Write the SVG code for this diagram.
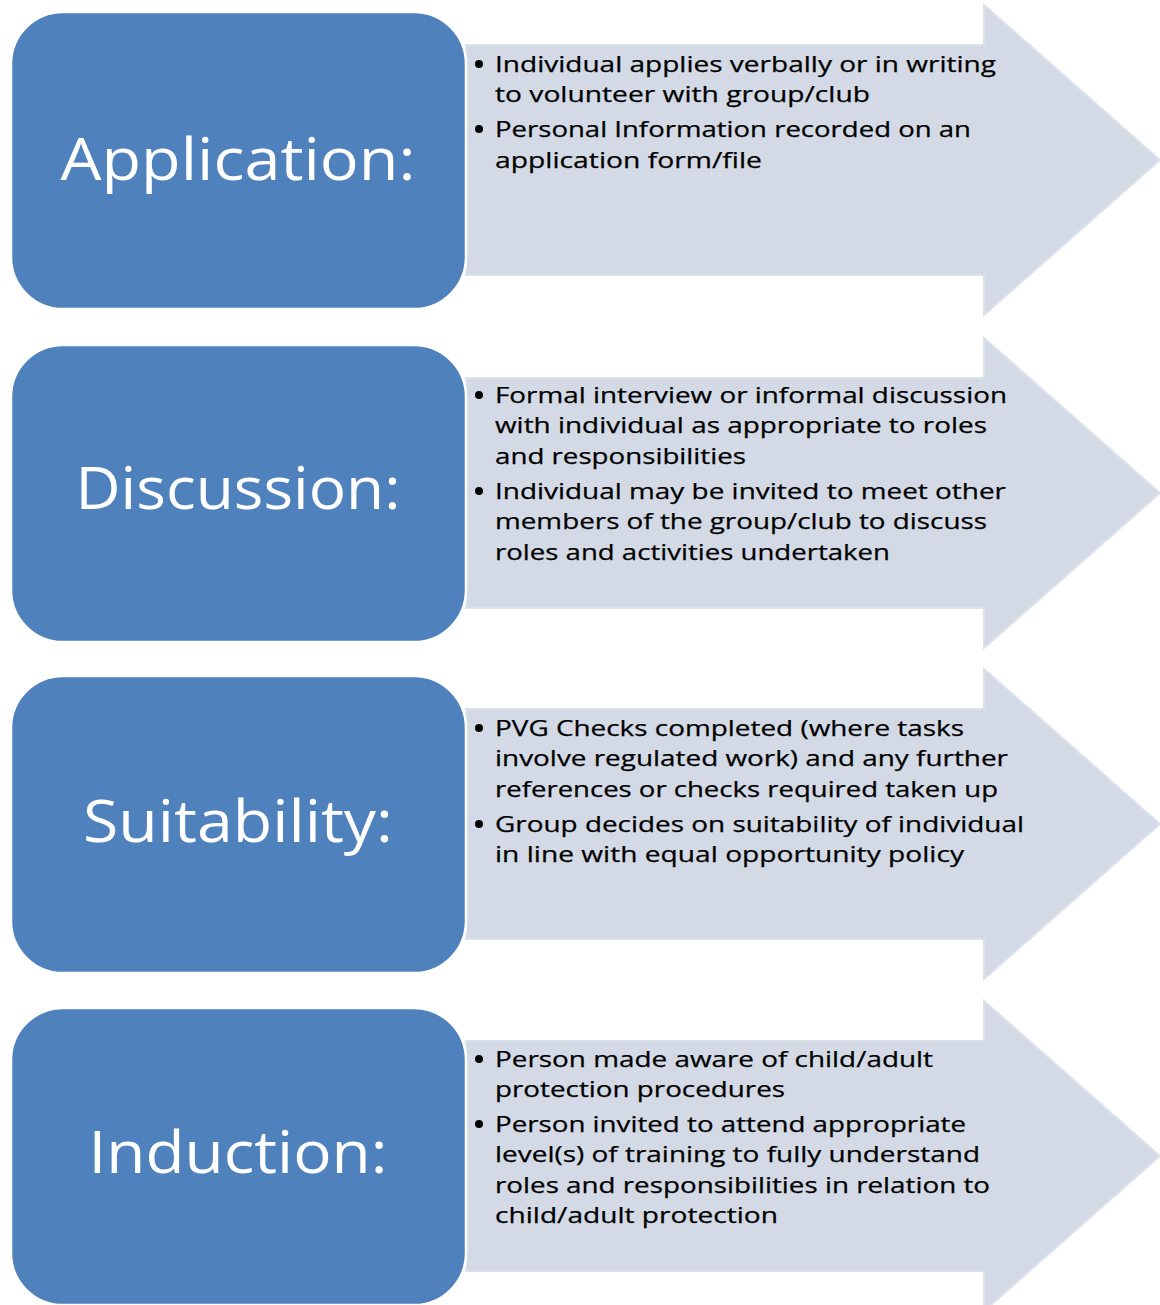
<svg xmlns="http://www.w3.org/2000/svg" width="1160" height="1305" viewBox="0 0 1160 1305">
  <style>
    .arrow { fill: #D3DAE6; stroke: #DCE2EC; stroke-width: 2; }
    .box { fill: #4F81BD; stroke: #FFFFFF; stroke-width: 2.5; }
    .label { font-family: "Open Sans", "Noto Sans", "Liberation Sans", sans-serif; font-size: 58px; fill: #FFFFFF; text-anchor: middle; }
    .item { font-family: "Open Sans", "Noto Sans", "Liberation Sans", sans-serif; font-size: 22px; fill: #000000; stroke: #000000; stroke-width: 0.25; }
    .dot { fill: #000000; }
  </style>
  <defs>
    <path id="stepArrow" d="M466,45 H984 V5 L1160,160 L984,315 V275 H466 Z"/>
    <rect id="stepBox" x="11" y="12" width="455" height="297" rx="52" ry="52"/>
  </defs>
  <rect width="1160" height="1305" fill="#FFFFFF"/>

  <!-- Step 1 -->
  <g id="application">
    <use href="#stepArrow" class="arrow"/>
    <use href="#stepBox" class="box"/>
    <text class="label" x="238" y="180" textLength="355" lengthAdjust="spacingAndGlyphs">Application:</text>
    <circle class="dot" cx="479" cy="64" r="4"/>
    <text class="item" x="495" y="72" textLength="501" lengthAdjust="spacingAndGlyphs">Individual applies verbally or in writing</text>
    <text class="item" x="495" y="102" textLength="375" lengthAdjust="spacingAndGlyphs">to volunteer with group/club</text>
    <circle class="dot" cx="479" cy="129" r="4"/>
    <text class="item" x="495" y="137" textLength="476" lengthAdjust="spacingAndGlyphs">Personal Information recorded on an</text>
    <text class="item" x="495" y="168" textLength="267" lengthAdjust="spacingAndGlyphs">application form/file</text>
  </g>

  <!-- Step 2 -->
  <g id="discussion">
    <use href="#stepArrow" class="arrow" transform="translate(0,333)"/>
    <use href="#stepBox" class="box" transform="translate(0,333)"/>
    <text class="label" x="238" y="509" textLength="325" lengthAdjust="spacingAndGlyphs">Discussion:</text>
    <circle class="dot" cx="479" cy="395" r="4"/>
    <text class="item" x="495" y="403" textLength="512" lengthAdjust="spacingAndGlyphs">Formal interview or informal discussion</text>
    <text class="item" x="495" y="433" textLength="492" lengthAdjust="spacingAndGlyphs">with individual as appropriate to roles</text>
    <text class="item" x="495" y="464" textLength="251" lengthAdjust="spacingAndGlyphs">and responsibilities</text>
    <circle class="dot" cx="479" cy="491" r="4"/>
    <text class="item" x="495" y="499" textLength="511" lengthAdjust="spacingAndGlyphs">Individual may be invited to meet other</text>
    <text class="item" x="495" y="529" textLength="492" lengthAdjust="spacingAndGlyphs">members of the group/club to discuss</text>
    <text class="item" x="495" y="560" textLength="395" lengthAdjust="spacingAndGlyphs">roles and activities undertaken</text>
  </g>

  <!-- Step 3 -->
  <g id="suitability">
    <use href="#stepArrow" class="arrow" transform="translate(0,664)"/>
    <use href="#stepBox" class="box" transform="translate(0,664)"/>
    <text class="label" x="238" y="842" textLength="310" lengthAdjust="spacingAndGlyphs">Suitability:</text>
    <circle class="dot" cx="479" cy="728" r="4"/>
    <text class="item" x="495" y="736" textLength="469" lengthAdjust="spacingAndGlyphs">PVG Checks completed (where tasks</text>
    <text class="item" x="495" y="766" textLength="513" lengthAdjust="spacingAndGlyphs">involve regulated work) and any further</text>
    <text class="item" x="495" y="797" textLength="503" lengthAdjust="spacingAndGlyphs">references or checks required taken up</text>
    <circle class="dot" cx="479" cy="824" r="4"/>
    <text class="item" x="495" y="832" textLength="529" lengthAdjust="spacingAndGlyphs">Group decides on suitability of individual</text>
    <text class="item" x="495" y="862" textLength="469" lengthAdjust="spacingAndGlyphs">in line with equal opportunity policy</text>
  </g>

  <!-- Step 4 -->
  <g id="induction">
    <use href="#stepArrow" class="arrow" transform="translate(0,996)"/>
    <use href="#stepBox" class="box" transform="translate(0,996)"/>
    <text class="label" x="238" y="1173" textLength="299" lengthAdjust="spacingAndGlyphs">Induction:</text>
    <circle class="dot" cx="479" cy="1059" r="4"/>
    <text class="item" x="495" y="1067" textLength="438" lengthAdjust="spacingAndGlyphs">Person made aware of child/adult</text>
    <text class="item" x="495" y="1097" textLength="290" lengthAdjust="spacingAndGlyphs">protection procedures</text>
    <circle class="dot" cx="479" cy="1124" r="4"/>
    <text class="item" x="495" y="1132" textLength="471" lengthAdjust="spacingAndGlyphs">Person invited to attend appropriate</text>
    <text class="item" x="495" y="1162" textLength="485" lengthAdjust="spacingAndGlyphs">level(s) of training to fully understand</text>
    <text class="item" x="495" y="1193" textLength="495" lengthAdjust="spacingAndGlyphs">roles and responsibilities in relation to</text>
    <text class="item" x="495" y="1223" textLength="283" lengthAdjust="spacingAndGlyphs">child/adult protection</text>
  </g>
</svg>
